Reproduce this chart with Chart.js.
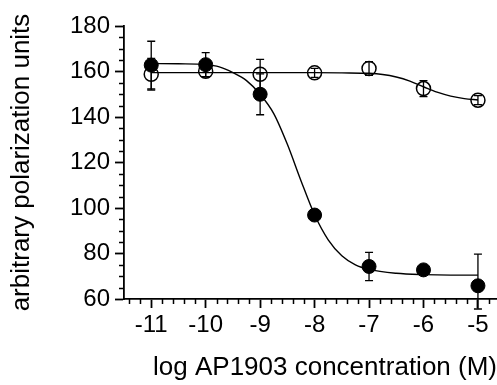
<!DOCTYPE html>
<html>
<head>
<meta charset="utf-8">
<script src="https://cdn.jsdelivr.net/npm/chart.js@4/dist/chart.umd.min.js"></script>
<style>
  html, body { margin: 0; padding: 0; background: #fff; }
  #wrap { width: 497px; height: 385px; }
</style>
</head>
<body>
<div id="wrap"><canvas id="chart"></canvas></div>
<script>
// measured points
var doses = [-11, -10, -9, -8, -7, -6, -5];
var filledMean = [162.8, 163.0, 150.0, 96.9, 74.3, 72.8, 65.8];
var filledErrUp = [10.5, 5.3, 9.0, 1.0, 6.2, 1.0, 13.9];
var filledErrDown = [10.5, 5.3, 9.0, 1.0, 6.2, 1.0, 10.2];
var openMean = [158.8, 160.1, 158.8, 159.4, 161.3, 152.5, 147.4];
var openErr = [7.0, 2.5, 6.5, 2.0, 3.0, 3.5, 2.0];

// fitted curves
var filledFitX = [-11, -10.5, -10, -9.75, -9.5, -9.25, -9, -8.75, -8.5, -8.25, -8, -7.75, -7.5, -7.25, -7, -6.5, -6, -5.5, -5];
var filledFitY = [163.5, 163.4, 163.0, 162.0, 159.5, 156.0, 150.0, 141.5, 128.0, 112.0, 97.0, 86.0, 79.0, 75.0, 73.0, 71.3, 70.7, 70.5, 70.5];
var openFitX = [-11, -10, -9, -8, -7.5, -7, -6.75, -6.5, -6.25, -6, -5.75, -5.5, -5.25, -5];
var openFitY = [159.5, 159.5, 159.5, 159.5, 159.4, 159.2, 158.7, 157.6, 155.8, 153.3, 150.9, 149.2, 148.1, 147.5];

var xTicks = [-11, -10, -9, -8, -7, -6, -5];
var xTickLabels = ['-11', '-10', '-9', '-8', '-7', '-6', '-5'];
var yTicks = [60, 80, 100, 120, 140, 160, 180];

function pairs(xs, ys) {
    var out = [];
    for (var i = 0; i < xs.length; i++) out.push({x: xs[i], y: ys[i]});
    return out;
}

var FONT = "'Liberation Sans', Arial, Helvetica, sans-serif";

var errorBars = {
    id: 'errorBars',
    beforeDatasetsDraw: function(chart) {
        var ctx = chart.ctx, xs = chart.scales.x, ys = chart.scales.y;
        ctx.save();
        ctx.strokeStyle = '#000';
        ctx.lineWidth = 1.3;
        function bar(x, lo, hi) {
            var px = xs.getPixelForValue(x);
            var p1 = ys.getPixelForValue(lo), p2 = ys.getPixelForValue(hi);
            ctx.beginPath();
            ctx.moveTo(px, p1); ctx.lineTo(px, p2);
            ctx.moveTo(px - 4, p1); ctx.lineTo(px + 4, p1);
            ctx.moveTo(px - 4, p2); ctx.lineTo(px + 4, p2);
            ctx.stroke();
        }
        for (var i = 0; i < doses.length; i++) {
            bar(doses[i], openMean[i] - openErr[i], openMean[i] + openErr[i]);
            bar(doses[i], filledMean[i] - filledErrDown[i], filledMean[i] + filledErrUp[i]);
        }
        ctx.restore();
    }
};

var minorTicks = {
    id: 'minorTicks',
    afterDraw: function(chart) {
        var ctx = chart.ctx, xs = chart.scales.x, ys = chart.scales.y;
        var a = chart.chartArea;
        ctx.save();
        ctx.strokeStyle = '#000';
        ctx.lineWidth = 1.5;
        ctx.beginPath();
        for (var v = 65; v < 180; v += 5) {
            if (v % 20 === 0) continue;
            var py = Math.round(ys.getPixelForValue(v)) + 0.5;
            ctx.moveTo(a.left - 5, py); ctx.lineTo(a.left, py);
        }
        for (var k = -57; k <= -24; k++) {
            if (k % 5 === 0) continue;
            var px = Math.round(xs.getPixelForValue(k / 5)) + 0.5;
            ctx.moveTo(px, a.bottom); ctx.lineTo(px, a.bottom + 5);
        }
        ctx.stroke();
        ctx.restore();
    }
};

var ctx = document.getElementById('chart');
var myChart = new Chart(ctx, {
    type: 'line',
    data: {
        datasets: [{
            label: 'filled',
            data: pairs(doses, filledMean),
            showLine: false,
            pointRadius: 7,
            pointBackgroundColor: '#000',
            pointBorderColor: '#000',
            pointBorderWidth: 1,
            order: 0
        }, {
            label: 'open',
            data: pairs(doses, openMean),
            showLine: false,
            pointRadius: 7,
            pointBackgroundColor: 'rgba(0,0,0,0)',
            pointBorderColor: '#000',
            pointBorderWidth: 1.5,
            order: 1
        }, {
            label: 'filled fit',
            data: pairs(filledFitX, filledFitY),
            borderColor: '#000',
            borderWidth: 1.4,
            pointRadius: 0,
            cubicInterpolationMode: 'monotone',
            order: 2
        }, {
            label: 'open fit',
            data: pairs(openFitX, openFitY),
            borderColor: '#000',
            borderWidth: 1.4,
            pointRadius: 0,
            cubicInterpolationMode: 'monotone',
            order: 3
        }]
    },
    options: {
        responsive: true,
        maintainAspectRatio: false,
        animation: false,
        layout: { autoPadding: false, padding: { top: 26, right: 0, left: 0, bottom: 0 } },
        plugins: { legend: { display: false }, tooltip: { enabled: false } },
        scales: {
            x: {
                type: 'linear',
                min: -11.5,
                max: -4.65,
                afterBuildTicks: function(s) { s.ticks = xTicks.map(function(v) { return {value: v}; }); },
                afterFit: function(s) { s.height = 86; s.paddingLeft = 0; s.paddingRight = 0; },
                grid: { display: true, drawOnChartArea: false, drawTicks: true, tickLength: 9, tickWidth: 1.8, color: '#000' },
                border: { display: true, color: '#000', width: 1.8 },
                ticks: {
                    color: '#000',
                    padding: 3,
                    maxRotation: 0,
                    font: { family: FONT, size: 24 },
                    callback: function(v) { return xTickLabels[xTicks.indexOf(v)]; }
                },
                title: {
                    display: true,
                    text: 'log AP1903 concentration (M)',
                    align: 'end',
                    color: '#000',
                    font: { family: FONT, size: 26 },
                    padding: { top: 0, bottom: 2 }
                }
            },
            y: {
                min: 60,
                max: 180,
                afterBuildTicks: function(s) { s.ticks = yTicks.map(function(v) { return {value: v}; }); },
                afterFit: function(s) { s.width = 124; s.paddingTop = 0; s.paddingBottom = 0; },
                grid: { display: true, drawOnChartArea: false, drawTicks: true, tickLength: 9, tickWidth: 1.8, color: '#000' },
                border: { display: true, color: '#000', width: 1.8 },
                ticks: {
                    color: '#000',
                    padding: 5,
                    font: { family: FONT, size: 24 }
                },
                title: {
                    display: true,
                    text: 'arbitrary polarization units',
                    color: '#000',
                    font: { family: FONT, size: 26 },
                    padding: { top: 6, bottom: 0 }
                }
            }
        }
    },
    plugins: [errorBars, minorTicks]
});
</script>
</body>
</html>
